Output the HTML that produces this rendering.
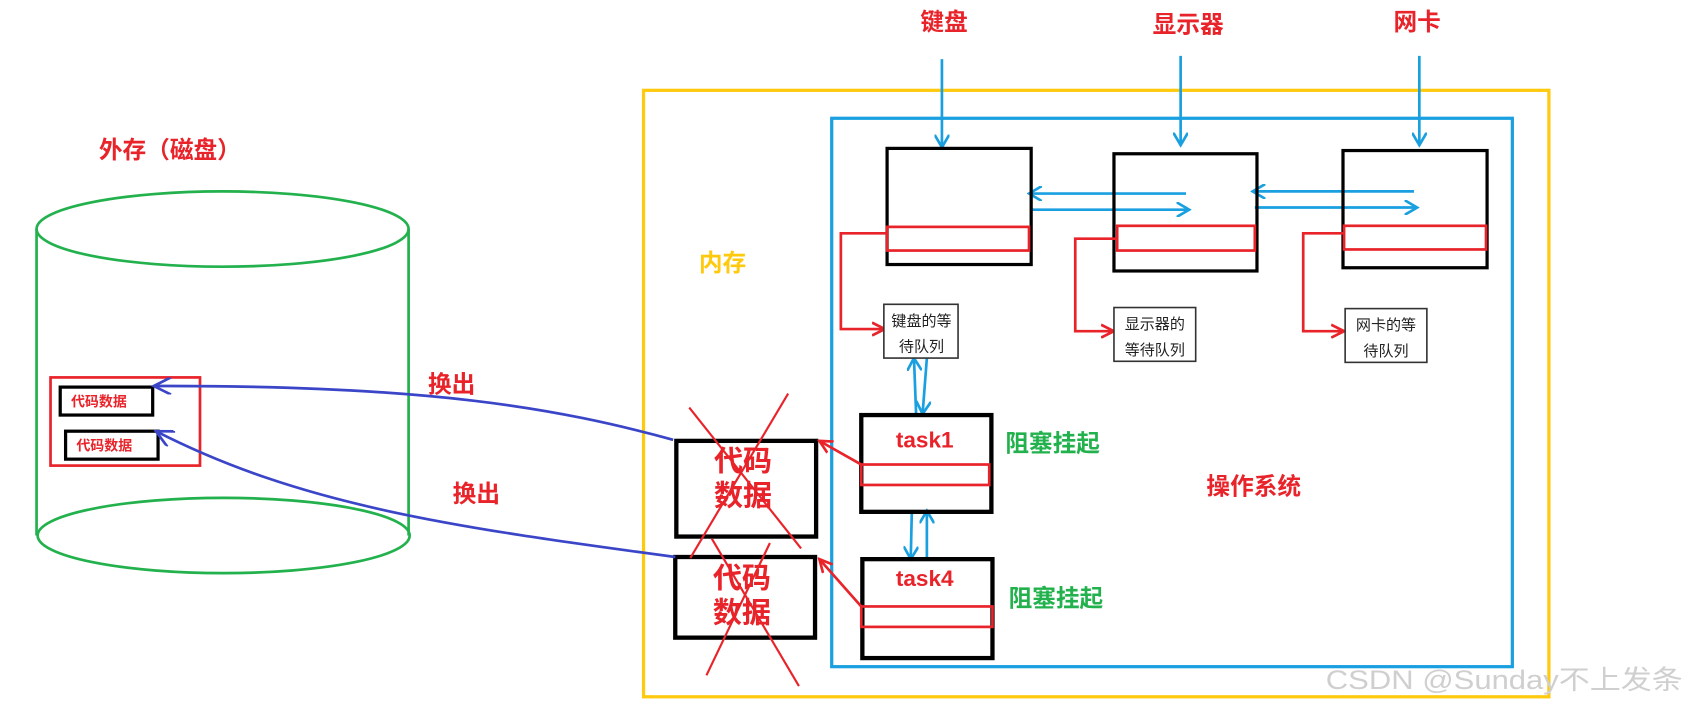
<!DOCTYPE html>
<html><head><meta charset="utf-8"><style>
html,body{margin:0;padding:0;background:#fff;}
svg{display:block}
text{font-family:"Liberation Sans","Noto Sans CJK SC",sans-serif;}
</style></head><body>
<svg width="1686" height="707" viewBox="0 0 1568 657.5" preserveAspectRatio="none" xmlns="http://www.w3.org/2000/svg">
<defs>
<marker id="ab" markerWidth="14" markerHeight="14" refX="12" refY="7" orient="auto" markerUnits="userSpaceOnUse"><path d="M0,0 L12,7 L0,14" fill="none" stroke="#1aa0e0" stroke-width="2.5"/></marker>
<marker id="ar" markerWidth="14" markerHeight="14" refX="12" refY="7" orient="auto" markerUnits="userSpaceOnUse"><path d="M0,1 L12,7 L0,13" fill="none" stroke="#e8232a" stroke-width="2.5"/></marker>
<marker id="au" markerWidth="20" markerHeight="16" refX="18" refY="8" orient="auto" markerUnits="userSpaceOnUse"><path d="M2,0 L18,8 L2,16" fill="none" stroke="#3b45c8" stroke-width="2.5"/></marker>
</defs>
<g fill="none" stroke="#22b14c" stroke-width="2.5">
<ellipse cx="207" cy="213" rx="173" ry="35"/>
<ellipse cx="208" cy="498" rx="173" ry="35"/>
<line x1="34" y1="213" x2="34" y2="498"/><line x1="380" y1="213" x2="380" y2="498"/>
</g>
<text x="92" y="147" font-size="22" font-weight="bold" fill="#e8232a">外存（磁盘）</text>
<rect x="47" y="351" width="139" height="82" fill="none" stroke="#e8232a" stroke-width="2.5"/>
<rect x="56" y="360" width="86" height="26" fill="none" stroke="#000" stroke-width="3"/>
<rect x="61" y="401" width="86" height="26" fill="none" stroke="#000" stroke-width="3"/>
<text x="66" y="378" font-size="13" font-weight="bold" fill="#e8232a">代码数据</text>
<text x="71" y="419" font-size="13" font-weight="bold" fill="#e8232a">代码数据</text>
<rect x="598.5" y="84" width="842" height="564" fill="none" stroke="#ffc90e" stroke-width="3"/>
<rect x="773.5" y="110" width="633" height="510" fill="none" stroke="#1aa0e0" stroke-width="3"/>
<text x="650" y="252" font-size="22" font-weight="bold" fill="#ffc90e">内存</text>
<text x="878" y="28" font-size="22" font-weight="bold" fill="#e8232a" text-anchor="middle">键盘</text>
<text x="1105" y="30" font-size="22" font-weight="bold" fill="#e8232a" text-anchor="middle">显示器</text>
<text x="1318" y="28" font-size="22" font-weight="bold" fill="#e8232a" text-anchor="middle">网卡</text>
<g stroke="#1aa0e0" stroke-width="2.5" fill="none">
<line x1="876" y1="55" x2="876" y2="137" marker-end="url(#ab)"/>
<line x1="1098" y1="52" x2="1098" y2="135" marker-end="url(#ab)"/>
<line x1="1320" y1="52" x2="1320" y2="135" marker-end="url(#ab)"/>
<line x1="1103" y1="180" x2="957" y2="180" marker-end="url(#ab)"/>
<line x1="959" y1="195" x2="1106" y2="195" marker-end="url(#ab)"/>
<line x1="1315" y1="178" x2="1165" y2="178" marker-end="url(#ab)"/>
<line x1="1167" y1="193" x2="1318" y2="193" marker-end="url(#ab)"/>
<line x1="852" y1="385" x2="850" y2="333" marker-end="url(#ab)"/>
<line x1="862" y1="333" x2="858" y2="385" marker-end="url(#ab)"/>
<line x1="848" y1="476" x2="847" y2="520" marker-end="url(#ab)"/>
<line x1="862" y1="520" x2="862" y2="475" marker-end="url(#ab)"/>
</g>
<g fill="none" stroke="#000" stroke-width="3">
<rect x="825" y="138" width="134" height="108"/>
<rect x="1036" y="143" width="133" height="109"/>
<rect x="1249" y="140" width="134" height="109"/>
</g>
<g fill="none" stroke="#e8232a" stroke-width="2.5">
<rect x="825" y="211" width="132" height="22"/>
<rect x="1039" y="210" width="128" height="23"/>
<rect x="1250" y="210" width="132" height="22"/>
<polyline points="825,217 782,217 782,306 823,306" marker-end="url(#ar)"/>
<polyline points="1039,222 1000,222 1000,308 1036,308" marker-end="url(#ar)"/>
<polyline points="1250,217 1212,217 1212,308 1250,308" marker-end="url(#ar)"/>
</g>
<g fill="#fff" stroke="#333" stroke-width="1.5">
<rect x="822" y="283" width="69" height="50"/>
<rect x="1036" y="286" width="76" height="50"/>
<rect x="1251" y="287" width="76" height="50"/>
</g>
<g font-size="14" fill="#222" text-anchor="middle">
<text x="857" y="303">键盘的等</text><text x="857" y="327">待队列</text>
<text x="1074" y="306">显示器的</text><text x="1074" y="330">等待队列</text>
<text x="1289" y="307">网卡的等</text><text x="1289" y="331">待队列</text>
</g>
<g fill="none" stroke="#000" stroke-width="4">
<rect x="801" y="386" width="121" height="90"/>
<rect x="802" y="520" width="121" height="92"/>
<rect x="629" y="410" width="130" height="89"/>
<rect x="628" y="518" width="130" height="75"/>
</g>
<g fill="none" stroke="#e8232a" stroke-width="2.5">
<rect x="801" y="432" width="119" height="19"/>
<rect x="801" y="564" width="122" height="19"/>
<line x1="801" y1="432" x2="762" y2="410" marker-end="url(#ar)"/>
<line x1="801" y1="564" x2="762" y2="520" marker-end="url(#ar)"/>
</g>
<text x="860" y="416" font-size="21" font-weight="600" fill="#e8232a" text-anchor="middle">task1</text>
<text x="860" y="545" font-size="21" font-weight="600" fill="#e8232a" text-anchor="middle">task4</text>
<text x="935" y="420" font-size="22" font-weight="bold" fill="#22b14c">阻塞挂起</text>
<text x="938" y="564" font-size="22" font-weight="bold" fill="#22b14c">阻塞挂起</text>
<text x="1122" y="460" font-size="22" font-weight="bold" fill="#e8232a">操作系统</text>
<g font-size="27" font-weight="bold" fill="#e8232a" text-anchor="middle">
<text x="691" y="438">代码</text><text x="691" y="470">数据</text>
<text x="690" y="547">代码</text><text x="690" y="579">数据</text>
</g>
<g stroke="#e8232a" stroke-width="2">
<line x1="641" y1="379" x2="745" y2="510"/>
<line x1="733" y1="366" x2="642" y2="519"/>
<line x1="662" y1="501" x2="743" y2="638"/>
<line x1="716" y1="505" x2="657" y2="628"/>
</g>
<g fill="none" stroke="#3b45c8" stroke-width="2.5">
<path d="M626,409 C520,380 400,358 143,359" marker-end="url(#au)"/>
<path d="M628,518 C420,490 280,470 145,401" marker-end="url(#au)"/>
</g>
<text x="398" y="365" font-size="22" font-weight="bold" fill="#e8232a">换出</text>
<text x="421" y="467" font-size="22" font-weight="bold" fill="#e8232a">换出</text>
<text x="1233" y="641" font-size="25" fill="#cfcfcf" textLength="332" lengthAdjust="spacingAndGlyphs">CSDN @Sunday不上发条</text>
</svg>
</body></html>
